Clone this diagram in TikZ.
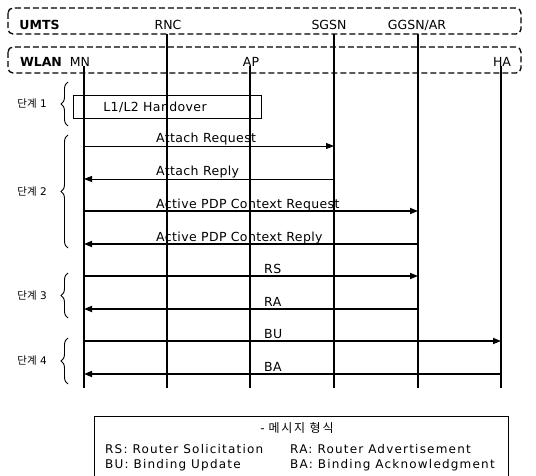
\documentclass[tikz,border=0pt]{standalone}
\usepackage{fontspec}
\setmainfont{DejaVu Sans}
\newfontfamily\kr{Noto Sans CJK KR}
\newfontfamily\krw{Noto Sans CJK KR}[LetterSpace=15]
\newfontfamily\msgf{DejaVu Sans}[LetterSpace=3]
\newfontfamily\legf{DejaVu Sans}[LetterSpace=10]
\usetikzlibrary{arrows.meta,decorations.pathreplacing}
\tikzset{
  grp/.style={draw,line width=1.3pt,dash pattern=on 6pt off 3pt,rounded corners=5pt},
  life/.style={line width=1.2pt},
  thinmsg/.style={line width=0.9pt,-{Triangle[length=8pt,width=6pt]}},
  thickmsg/.style={line width=1.6pt,-{Triangle[length=8pt,width=6pt]}},
  lbl/.style={font=\fontsize{12.5}{14}\selectfont,inner sep=0pt,anchor=base},
  msglbl/.style={font=\msgf\fontsize{12.5}{14}\selectfont,inner sep=0pt,anchor=base west},
  brc/.style={decorate,decoration={brace,amplitude=7pt},line width=0.9pt},
  steplbl/.style={font=\fontsize{10.5}{12}\selectfont,anchor=east,inner sep=0pt},
  legtxt/.style={font=\legf\fontsize{12}{14}\selectfont,anchor=base west,inner sep=0pt}
}
\begin{document}
\begin{tikzpicture}[x=1pt,y=-1pt]
\useasboundingbox (0,0) rectangle (536,476);
% group boxes
\draw[grp] (8,8) rectangle (521,34);
\draw[grp] (8,47) rectangle (521,73);
\node[lbl,font=\fontsize{12.5}{14}\selectfont\bfseries] (umts) at (39.5,30) {UMTS};
\node[lbl,font=\fontsize{12.5}{14}\selectfont\bfseries] (wlan) at (41,67) {WLAN};
\node[lbl] (rncL) at (168,30) {RNC};
\node[lbl] (sgsnL) at (329,30) {SGSN};
\node[lbl] (ggsnL) at (417,30) {GGSN/AR};
\node[lbl] (mnL) at (80,67) {MN};
\node[lbl] (apL) at (251,67) {AP};
\node[lbl] (haL) at (502,67) {HA};
% lifeline ends
\coordinate (MNt) at (84,66);   \coordinate (MNb) at (84,388);
\coordinate (RNCt) at (167,34); \coordinate (RNCb) at (167,388);
\coordinate (APt) at (250,66);  \coordinate (APb) at (250,388);
\coordinate (SGt) at (334,34);  \coordinate (SGb) at (334,388);
\coordinate (GGt) at (418,34);  \coordinate (GGb) at (418,388);
\coordinate (HAt) at (501,66);  \coordinate (HAb) at (501,388);
\foreach \n in {MN,RNC,AP,SG,GG,HA} \draw[life] (\n t) -- (\n b);
% handover box
\node[draw,line width=1pt,minimum width=188pt,minimum height=23pt,inner sep=0pt] (ho) at (167,107.5) {};
\node[msglbl,anchor=center] (hot) at (155,107) {L1/L2 Handover};
% message end points
\coordinate (a1) at (84,146);  \coordinate (b1) at (334,146);
\coordinate (a2) at (334,179); \coordinate (b2) at (84,179);
\coordinate (a3) at (84,211);  \coordinate (b3) at (418,211);
\coordinate (a4) at (418,244); \coordinate (b4) at (84,244);
\coordinate (a5) at (84,276);  \coordinate (b5) at (418,276);
\coordinate (a6) at (418,309); \coordinate (b6) at (84,309);
\coordinate (a7) at (84,341);  \coordinate (b7) at (501,341);
\coordinate (a8) at (501,374); \coordinate (b8) at (84,374);
\draw[thinmsg] (a1) -- (b1);
\draw[thinmsg] (a2) -- (b2);
\draw[thickmsg] (a3) -- (b3);
\draw[thickmsg] (a4) -- (b4);
\draw[thickmsg] (a5) -- (b5);
\draw[thickmsg] (a6) -- (b6);
\draw[thickmsg] (a7) -- (b7);
\draw[thickmsg] (a8) -- (b8);
\node[msglbl] (t1) at (156,143) {Attach Request};
\node[msglbl] (t2) at (156,176) {Attach Reply};
\node[msglbl] (t3) at (156,208) {Active PDP Context Request};
\node[msglbl] (t4) at (156,241) {Active PDP Context Reply};
\node[msglbl] (t5) at (264,273) {RS};
\node[msglbl] (t6) at (264,306) {RA};
\node[msglbl] (t7) at (264,338) {BU};
\node[msglbl] (t8) at (264,371) {BA};
% braces
\coordinate (s1b) at (68,126); \coordinate (s1t) at (68,82);
\coordinate (s2b) at (68,248); \coordinate (s2t) at (68,135);
\coordinate (s3b) at (68,318); \coordinate (s3t) at (68,273);
\coordinate (s4b) at (68,384); \coordinate (s4t) at (68,338);
\draw[brc] (s1b) -- (s1t);
\draw[brc] (s2b) -- (s2t);
\draw[brc] (s3b) -- (s3t);
\draw[brc] (s4b) -- (s4t);
\node[steplbl] (l1) at (47,104) {{\kr 단계} 1};
\node[steplbl] (l2) at (47,192) {{\kr 단계} 2};
\node[steplbl] (l3) at (47,296) {{\kr 단계} 3};
\node[steplbl] (l4) at (47,361) {{\kr 단계} 4};
% legend
\coordinate (lg1) at (94,478); \coordinate (lg2) at (94,416);
\coordinate (lg3) at (508,416); \coordinate (lg4) at (508,478);
\draw[line width=1pt] (lg1) -- (lg2) -- (lg3) -- (lg4);
\node[lbl,anchor=center,font=\fontsize{12}{13}\selectfont] (lgt) at (297,428) {- {\krw 메시지 형식}};
\node[legtxt] (rs) at (105,453) {RS: Router Solicitation};
\node[legtxt] (bu) at (105,468) {BU: Binding Update};
\node[legtxt] (ra) at (290,453) {RA: Router Advertisement};
\node[legtxt] (ba) at (290,468) {BA: Binding Acknowledgment};
\end{tikzpicture}
\end{document}
